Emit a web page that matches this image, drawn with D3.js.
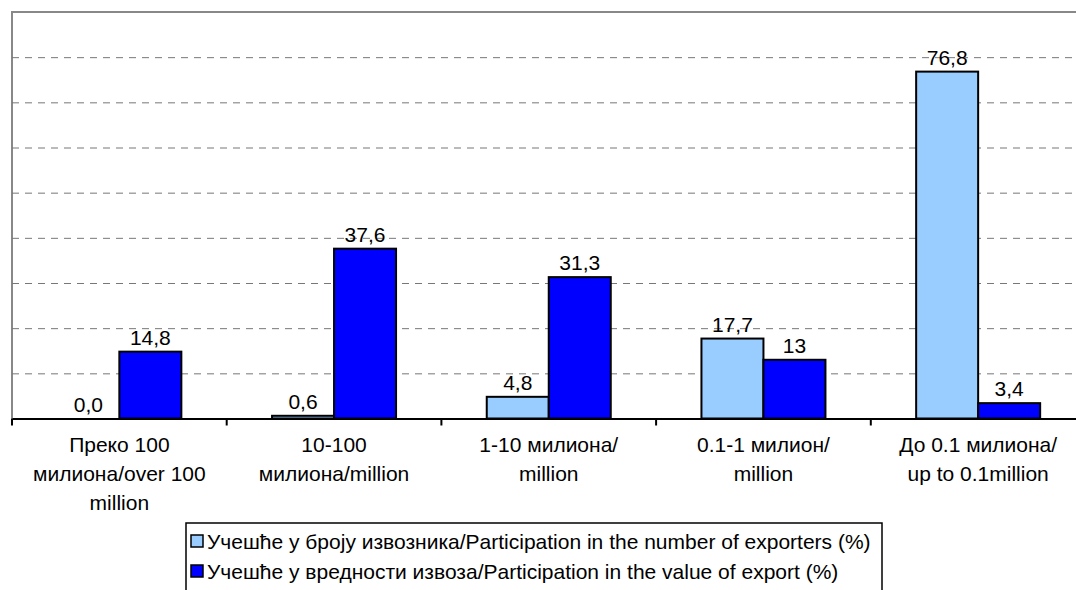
<!DOCTYPE html>
<html lang="sr">
<head>
    <meta charset="UTF-8">
    <title>Учешће извозника</title>
    <style type="text/css">
        * {
            margin: 0;
            padding: 0;
        }
        body {
            background: white;
        }
        text {
            font-family: Arial, "Liberation Sans", sans-serif;
            fill: #000;
        }
    </style>
</head>
<body>
<div id="chart-area"></div>
<script src="https://cdn.jsdelivr.net/npm/d3@7"></script>
<script type="text/javascript">
    const categories = ['c1', 'c2', 'c3', 'c4', 'c5']
    const categoryLabels = [
      ['Преко 100', 'милиона/over 100', 'million'],
      ['10-100', 'милиона/million'],
      ['1-10 милиона/', 'million'],
      ['0.1-1 милион/', 'million'],
      ['До 0.1 милиона/', 'up to 0.1million']
    ]
    const seriesNames = [
      'Учешће у броју извозника/Participation in the number of exporters (%)',
      'Учешће у вредности извоза/Participation in the value of export (%)'
    ]
    const exporters = [0.0, 0.6, 4.8, 17.7, 76.8]
    const exportValue = [14.8, 37.6, 31.3, 13, 3.4]
    const exportersLabels = ['0,0', '0,6', '4,8', '17,7', '76,8']
    const exportValueLabels = ['14,8', '37,6', '31,3', '13', '3,4']
    const yTicks = [10, 20, 30, 40, 50, 60, 70, 80]
    const colors = ['#99ccff', '#0000ff']

    const width = 1076
    const height = 590
    const plotLeft = 12
    const plotTop = 12
    const plotBottom = 418.5
    const catWidth = 214.7
    const fontSize = '21px'

    const svg = d3.select('#chart-area').append('svg')
    .attr('width', width)
    .attr('height', height)
    .style('background-color', 'white')

    const x = d3.scaleBand()
    .domain(categories)
    .range([plotLeft, plotLeft + catWidth * categories.length])

    const xInner = d3.scaleBand()
    .domain([0, 1])
    .range([45.35, catWidth - 45.35])

    const y = d3.scaleLinear()
    .domain([0, 90])
    .range([plotBottom, plotTop])

    // frame top + left
    svg.append('path')
    .attr('d', `M${plotLeft},${plotBottom} V${y(90)} H${width + 10}`)
    .attr('fill', 'none')
    .attr('stroke', '#888')
    .attr('stroke-width', 2)

    // gridlines
    svg.append('g')
    .attr('transform', `translate(${plotLeft},0)`)
    .call(d3.axisLeft(y).tickValues(yTicks).tickSize(-(width - plotLeft)).tickFormat(''))
    .call(g => g.select('.domain').remove())
    .call(g => g.selectAll('.tick line')
      .attr('stroke', '#777')
      .attr('stroke-dasharray', '7,6'))

    const rows = categories.map((c, i) => ({
      cat: c,
      vals: [
        {s: 0, v: exporters[i], label: exportersLabels[i]},
        {s: 1, v: exportValue[i], label: exportValueLabels[i]}
      ]
    }))

    const groups = svg.selectAll('g.cat').data(rows).enter().append('g')
    .attr('class', 'cat')
    .attr('transform', d => `translate(${x(d.cat)},0)`)

    groups.selectAll('rect').data(d => d.vals.filter(v => v.v > 0)).enter().append('rect')
    .attr('x', d => xInner(d.s))
    .attr('y', d => y(d.v))
    .attr('width', xInner.bandwidth())
    .attr('height', d => plotBottom - y(d.v))
    .attr('fill', d => colors[d.s])
    .attr('stroke', '#000')
    .attr('stroke-width', 2)

    groups.selectAll('text.val').data(d => d.vals).enter().append('text')
    .attr('class', 'val')
    .attr('x', d => xInner(d.s) + xInner.bandwidth() / 2)
    .attr('y', d => y(d.v) - 7)
    .attr('text-anchor', 'middle')
    .style('font-size', fontSize)
    .text(d => d.label)

    // x axis
    const xAxis = svg.append('g')
    .attr('transform', `translate(0,${plotBottom})`)
    .call(d3.axisBottom(x).tickSize(0).tickFormat(''))
    xAxis.select('.domain').attr('stroke', '#000').attr('stroke-width', 2)

    const bounds = categories.map(c => x(c)).concat([x.range()[1]])
    svg.selectAll('line.tick').data(bounds).enter().append('line')
    .attr('x1', d => d)
    .attr('x2', d => d)
    .attr('y1', plotBottom)
    .attr('y2', plotBottom + 7)
    .attr('stroke', '#000')
    .attr('stroke-width', 2)

    const labels = svg.selectAll('text.cat').data(categories).enter().append('text')
    .attr('class', 'cat')
    .attr('text-anchor', 'middle')
    .style('font-size', fontSize)
    .attr('transform', d => `translate(${x(d) + x.bandwidth() / 2},452)`)
    labels.selectAll('tspan').data((d, i) => categoryLabels[i]).enter().append('tspan')
    .attr('x', 0)
    .attr('y', (d, i) => i * 29)
    .text(d => d)

    // legend
    const legend = svg.append('g').attr('transform', 'translate(186,523)')
    legend.append('rect')
    .attr('x', 0)
    .attr('y', 0)
    .attr('width', 696)
    .attr('height', 80)
    .attr('fill', 'white')
    .attr('stroke', '#000')
    .attr('stroke-width', 1.5)

    const items = legend.selectAll('g.item').data(seriesNames).enter().append('g')
    .attr('class', 'item')
    .attr('transform', (d, i) => `translate(5,${19 + i * 30})`)
    items.append('rect')
    .attr('x', 0)
    .attr('y', -7)
    .attr('width', 12)
    .attr('height', 12)
    .attr('fill', (d, i) => colors[i])
    .attr('stroke', '#000')
    .attr('stroke-width', 1.5)
    items.append('text')
    .attr('x', 16)
    .attr('y', 7)
    .style('font-size', fontSize)
    .text(d => d)
</script>
</body>
</html>
